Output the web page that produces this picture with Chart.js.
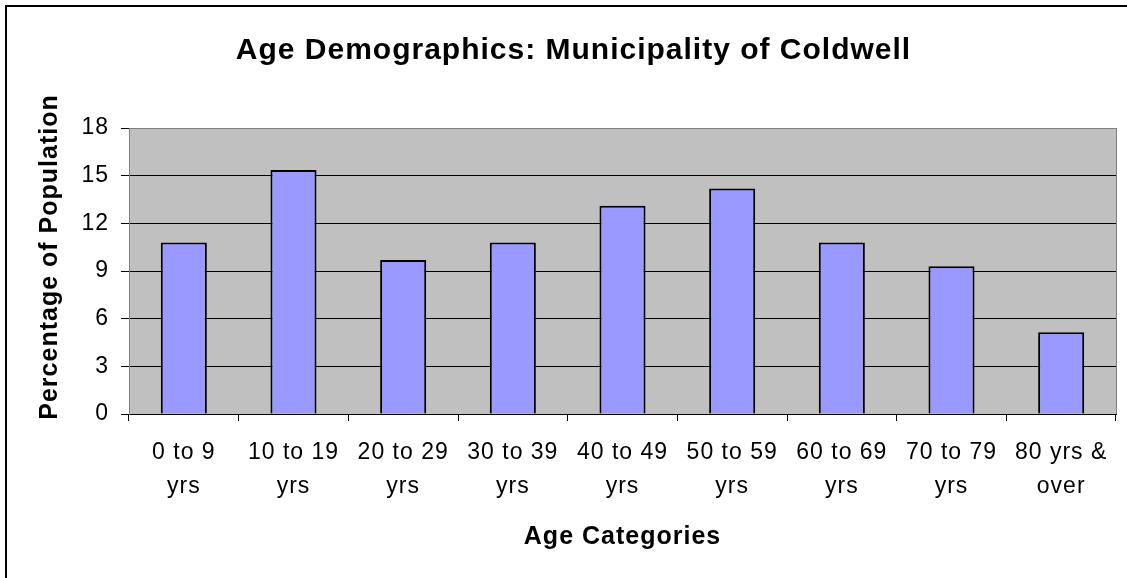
<!DOCTYPE html>
<html>
<head>
<meta charset="utf-8">
<title>Age Demographics: Municipality of Coldwell</title>
<script src="https://cdn.jsdelivr.net/npm/chart.js@4"></script>
<style>
  html, body { margin: 0; padding: 0; background: #fff; }
  canvas { display: block; }
</style>
</head>
<body>
<canvas id="ageChart" width="1127" height="578"></canvas>
<script>
// Data usia penduduk
const ageCategories = [
  ["0 to 9", "yrs"],
  ["10 to 19", "yrs"],
  ["20 to 29", "yrs"],
  ["30 to 39", "yrs"],
  ["40 to 49", "yrs"],
  ["50 to 59", "yrs"],
  ["60 to 69", "yrs"],
  ["70 to 79", "yrs"],
  ["80 yrs &", "over"],
];
const populationPct = [10.8, 15.35, 9.7, 10.8, 13.1, 14.2, 10.8, 9.3, 5.15];
const yMin = 0;
const yMax = 18;
const yStep = 3;
const yAxisTitle = "Percentage of Population";

const fontFamily = "'Liberation Sans', Arial, sans-serif";

// background abu-abu area plot, garis tepi, judul sumbu Y
const plotBackground = {
  id: "plotBackground",
  beforeLayout(chart) {
    chart.ctx.letterSpacing = "1px";
  },
  beforeDraw(chart) {
    const ctx = chart.ctx;
    const a = chart.chartArea;
    ctx.letterSpacing = "1px";
    ctx.save();
    ctx.fillStyle = "#fff";
    ctx.fillRect(0, 0, chart.width, chart.height);
    ctx.fillStyle = "#C0C0C0";
    ctx.fillRect(a.left, a.top, a.right - a.left, a.bottom - a.top);
    ctx.strokeStyle = "#808080";
    ctx.lineWidth = 1;
    ctx.strokeRect(a.left + 0.5, a.top + 0.5, a.right - a.left, a.bottom - a.top);
    ctx.restore();
  },
  afterDraw(chart) {
    const ctx = chart.ctx;
    ctx.save();
    ctx.fillStyle = "#000";
    ctx.fillRect(5, 5, chart.width - 5, 2);
    ctx.fillRect(5, 5, 2, chart.height - 5);
    // judul sumbu Y (sedikit di atas tengah area plot, seperti aslinya)
    ctx.translate(50, 257);
    ctx.rotate(-Math.PI / 2);
    ctx.font = "bold 25px " + fontFamily;
    ctx.textAlign = "center";
    ctx.textBaseline = "middle";
    ctx.fillText(yAxisTitle, 0, 0);
    ctx.restore();
  },
};

window.onload = () => {
  const ctx = document.getElementById("ageChart").getContext("2d");
  new Chart(ctx, {
    type: "bar",
    data: {
      labels: ageCategories,
      datasets: [
        {
          data: populationPct,
          backgroundColor: "#9999FF",
          borderColor: "#000",
          borderWidth: 2,
          categoryPercentage: 1,
          barPercentage: 0.42,
        },
      ],
    },
    options: {
      responsive: false,
      animation: false,
      devicePixelRatio: 1,
      layout: {
        padding: { left: 31, right: 11, top: 0, bottom: 0 },
      },
      plugins: {
        legend: { display: false },
        tooltip: { enabled: false },
        title: {
          display: true,
          text: "Age Demographics: Municipality of Coldwell",
          color: "#000",
          font: { family: fontFamily, size: 30, weight: "bold", lineHeight: 1.2 },
          padding: { top: 33, bottom: 59 },
        },
      },
      scales: {
        x: {
          afterFit(scale) {
            scale.height = 164;
          },
          grid: {
            offset: true,
            drawOnChartArea: false,
            drawTicks: true,
            tickLength: 7,
            color: "#000",
          },
          border: { display: true, color: "#000" },
          ticks: {
            color: "#000",
            padding: 14,
            maxRotation: 0,
            autoSkip: false,
            font: { family: fontFamily, size: 23, lineHeight: 1.5 },
          },
          title: {
            display: true,
            text: "Age Categories",
            color: "#000",
            font: { family: fontFamily, size: 25, weight: "bold", lineHeight: 1.2 },
            padding: { top: 4, bottom: 26 },
          },
        },
        y: {
          min: yMin,
          max: yMax,
          afterFit(scale) {
            scale.width = 98;
          },
          grid: {
            color: (c) => (c.tick && c.tick.value === yMax ? "#808080" : "#000"),
            tickColor: "#000",
            tickLength: 8,
            lineWidth: 1,
          },
          border: { display: true, color: "#808080" },
          ticks: {
            stepSize: yStep,
            color: "#000",
            padding: 12,
            font: { family: fontFamily, size: 23 },
          },
        },
      },
    },
    plugins: [plotBackground],
  });
};
</script>
</body>
</html>
